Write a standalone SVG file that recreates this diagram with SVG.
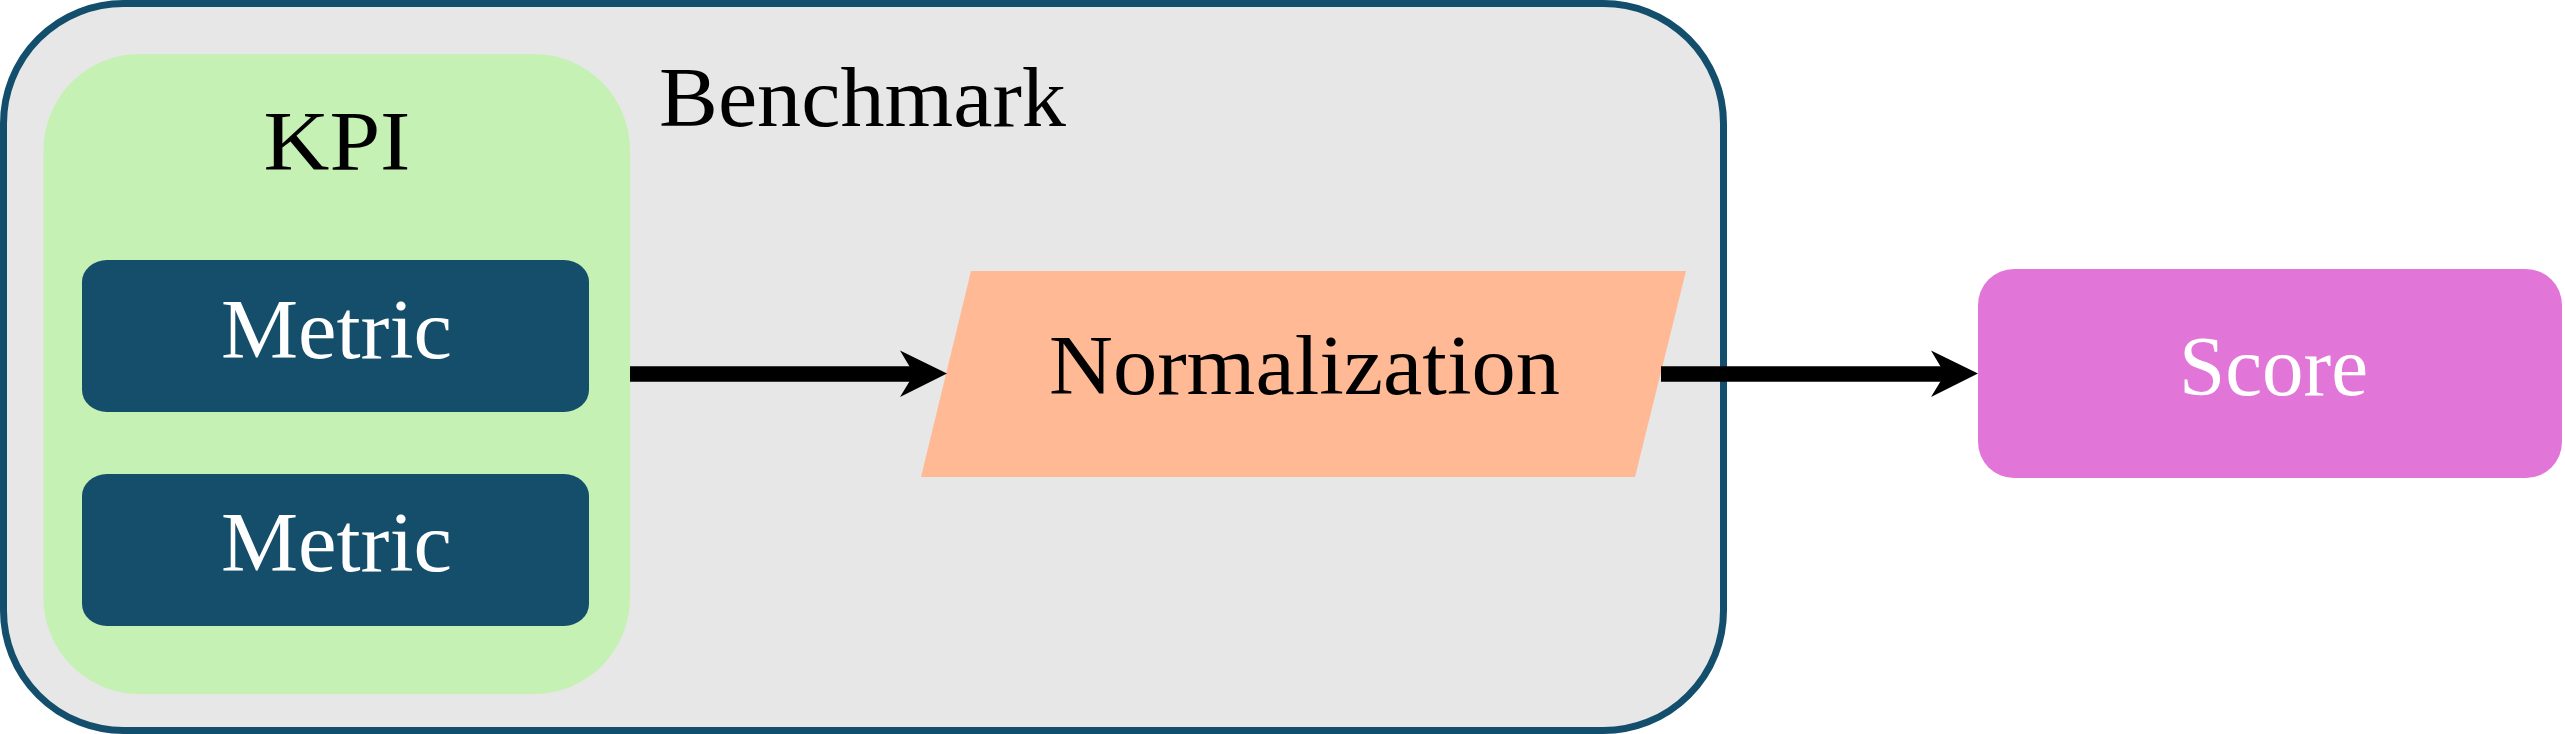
<svg xmlns="http://www.w3.org/2000/svg" width="2565" height="734" viewBox="0 0 2565 734">
<style>
text { font-family: "Liberation Serif", "DejaVu Serif", serif; font-size: 85px; text-anchor: middle; }
.dark { fill: #000000; }
.light { fill: #ffffff; }
.conn { stroke: #000000; stroke-width: 15.5; fill: none; }
</style>
<defs>
<marker id="head" markerUnits="userSpaceOnUse" viewBox="0 0 48 48" refX="14" refY="24" markerWidth="48" markerHeight="48" orient="auto" overflow="visible">
<path d="M0,0.5 L47,23.5 L0,47 L14,24 Z" fill="#000000"/>
</marker>
</defs>
<rect width="2565" height="734" fill="#ffffff"/>
<g id="benchmark">
<rect x="3.5" y="3.5" width="1720" height="727" rx="120" ry="120" fill="#e7e7e7" stroke="#134f6c" stroke-width="7"/>
<text class="dark" x="862.5" y="125.5" textLength="407" lengthAdjust="spacingAndGlyphs">Benchmark</text>
</g>
<g id="kpi">
<rect x="43.5" y="54" width="586.5" height="640" rx="96" ry="96" fill="#c5f1b5"/>
<text class="dark" x="337" y="169.5" textLength="147" lengthAdjust="spacingAndGlyphs">KPI</text>
</g>
<g id="metric1">
<rect x="82" y="260" width="507" height="152" rx="25" ry="22" fill="#154e6b"/>
<text class="light" x="336.5" y="358" textLength="231" lengthAdjust="spacingAndGlyphs">Metric</text>
</g>
<g id="metric2">
<rect x="82" y="474" width="507" height="152" rx="25" ry="22" fill="#154e6b"/>
<text class="light" x="336.5" y="571" textLength="231" lengthAdjust="spacingAndGlyphs">Metric</text>
</g>
<g id="normalization">
<polygon points="971,271 1686,271 1635,477 921,477" fill="#ffba95"/>
<text class="dark" x="1304.5" y="393.5" textLength="511" lengthAdjust="spacingAndGlyphs">Normalization</text>
</g>
<g id="score">
<rect x="1978" y="269" width="584" height="209" rx="36" ry="36" fill="#e276d8"/>
<text class="light" x="2273.5" y="395" textLength="189" lengthAdjust="spacingAndGlyphs">Score</text>
</g>
<g id="connectors">
<line class="conn" x1="630" y1="374" x2="914" y2="374" marker-end="url(#head)"/>
<line class="conn" x1="1661" y1="374" x2="1945" y2="374" marker-end="url(#head)"/>
</g>
</svg>
